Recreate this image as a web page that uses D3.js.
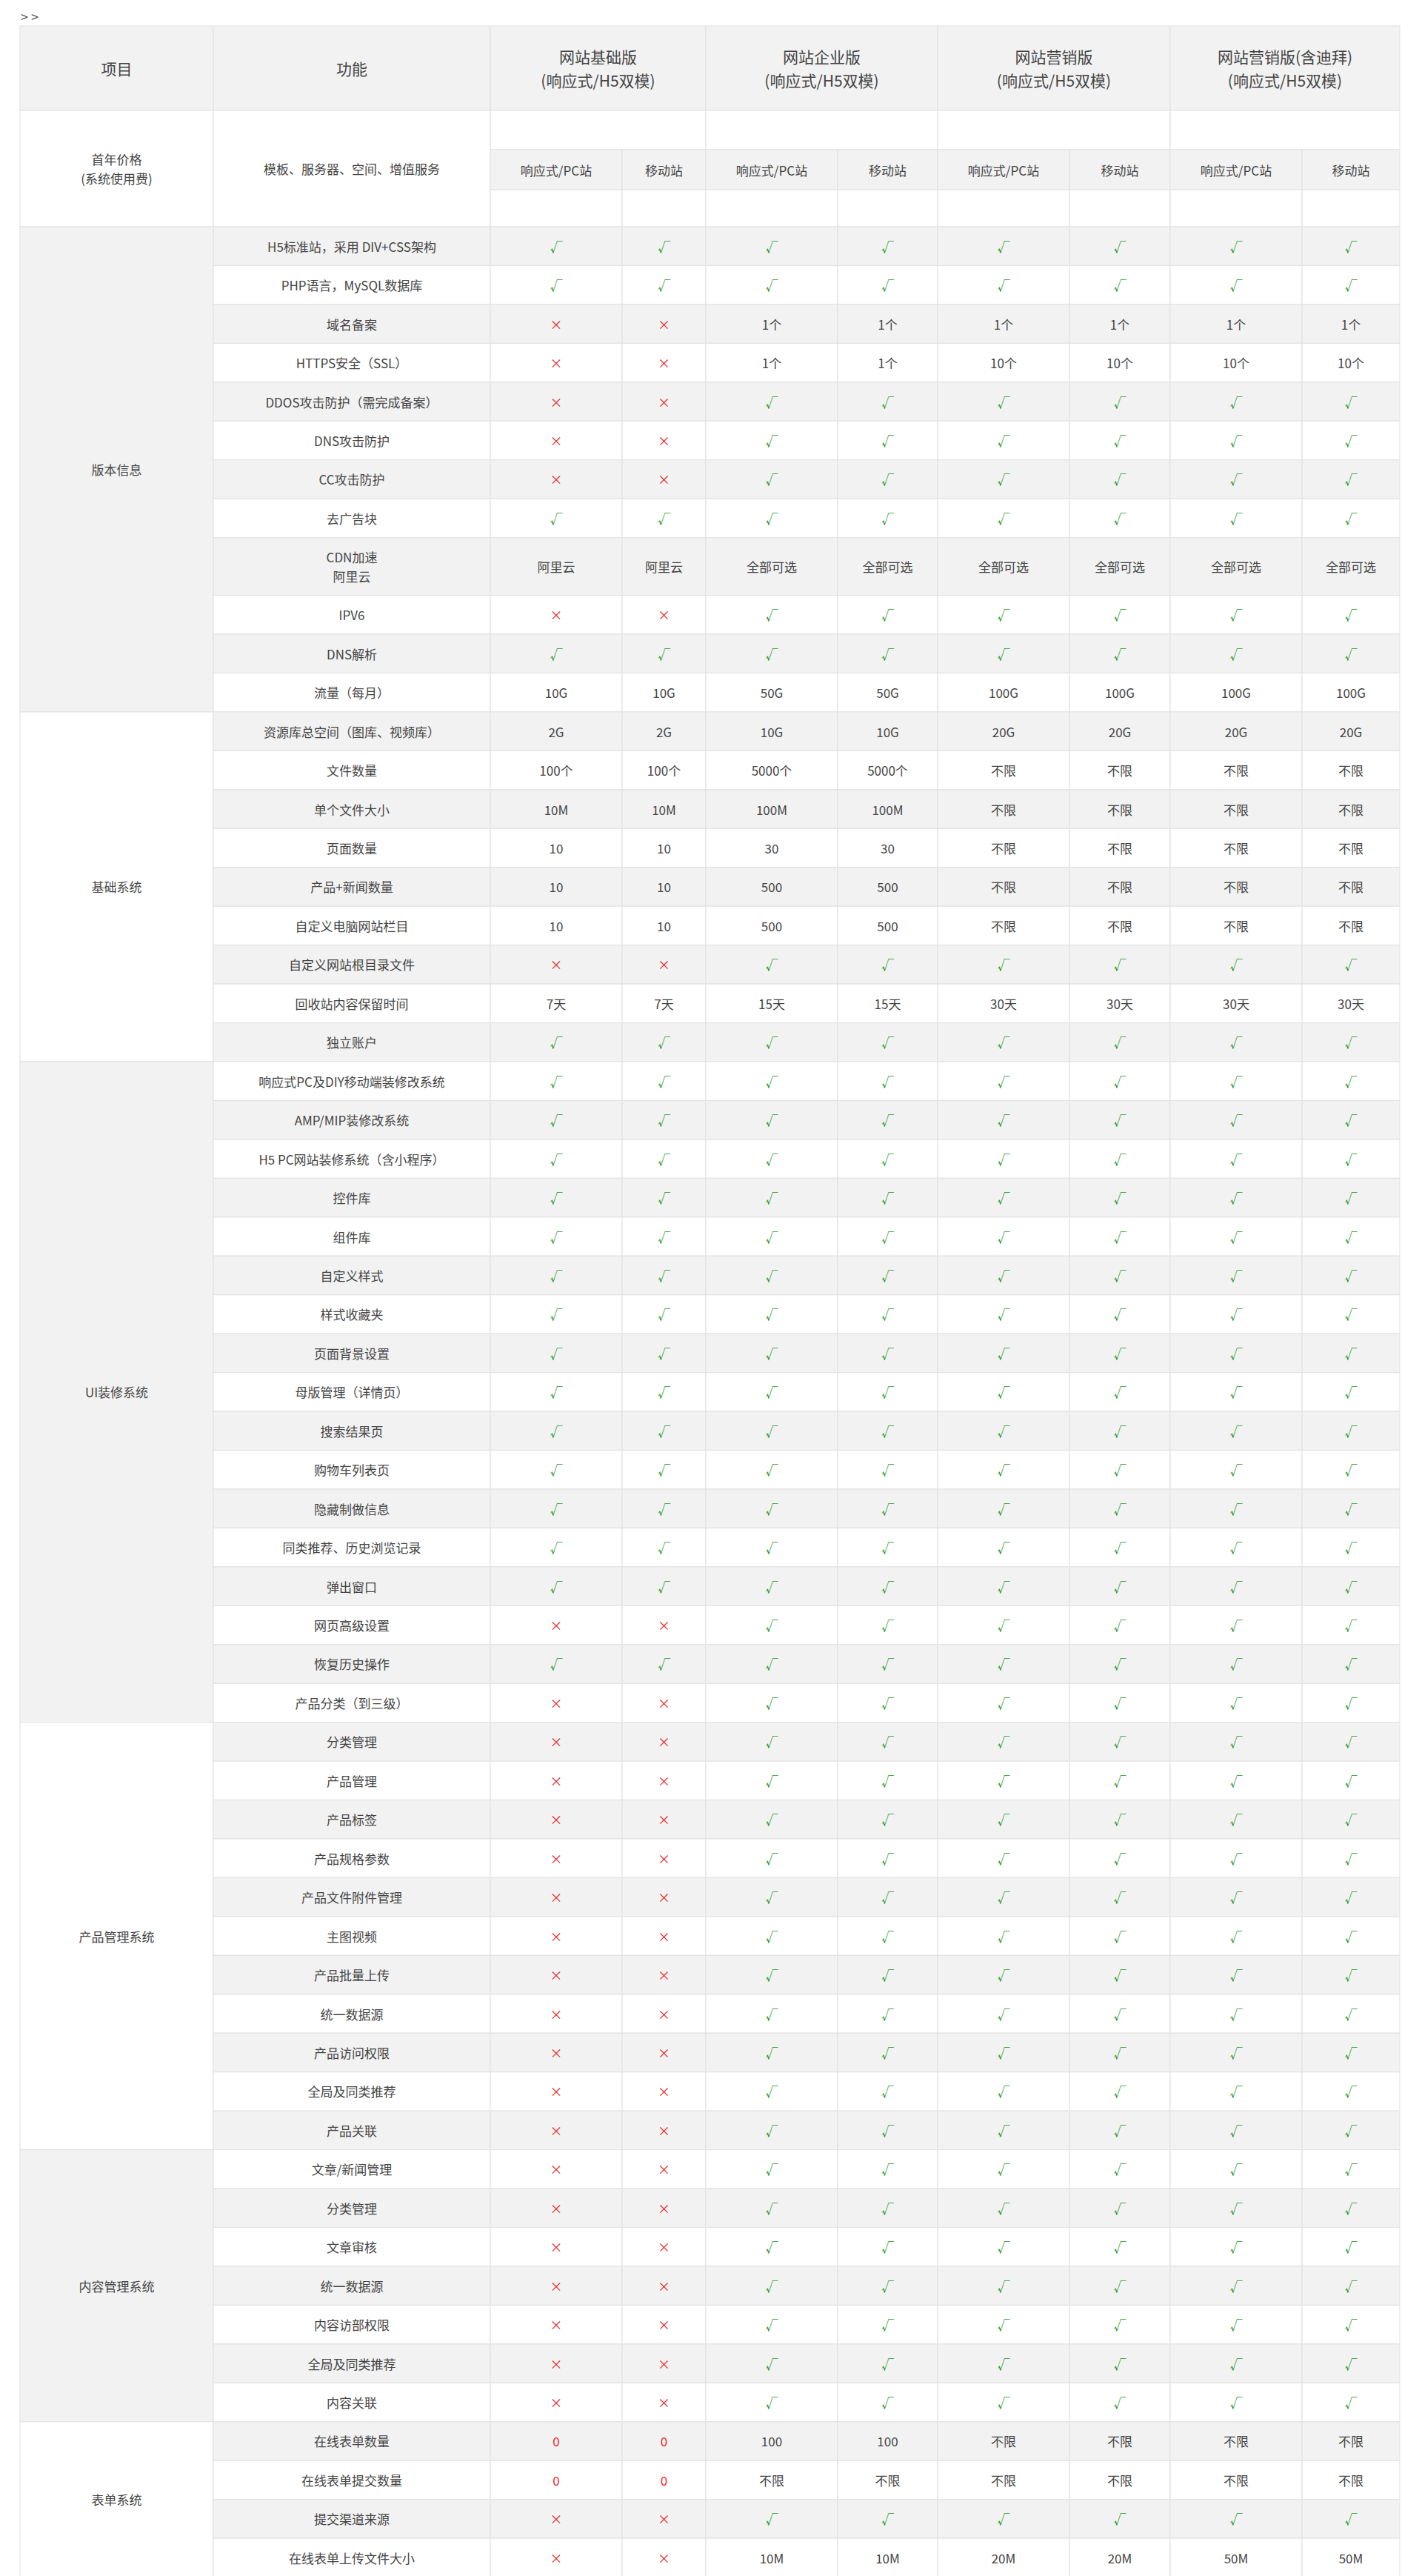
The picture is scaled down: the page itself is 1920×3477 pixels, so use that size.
<!DOCTYPE html>
<html><head><meta charset="utf-8">
<script src="https://cdn.jsdelivr.net/npm/d3@7"></script>
<style>body{margin:0;background:#fff}svg{display:block}</style>
</head><body>
<script>
const plans = ["网站基础版|(响应式/H5双模)","网站企业版|(响应式/H5双模)","网站营销版|(响应式/H5双模)","网站营销版(含迪拜)|(响应式/H5双模)"];
const subHeads = ["响应式/PC站","移动站"];
const allY = ["y","y","y","y","y","y","y","y"];
const noY = ["n","n","y","y","y","y","y","y"];
const sec1 = [
 ["H5标准站，采用 DIV+CSS架构", allY],
 ["PHP语言，MySQL数据库", allY],
 ["域名备案", ["n","n","1个","1个","1个","1个","1个","1个"]],
 ["HTTPS安全（SSL）", ["n","n","1个","1个","10个","10个","10个","10个"]],
 ["DDOS攻击防护（需完成备案）", noY],
 ["DNS攻击防护", noY],
 ["CC攻击防护", noY],
 ["去广告块", allY],
 ["CDN加速|阿里云", ["阿里云","阿里云","全部可选","全部可选","全部可选","全部可选","全部可选","全部可选"]],
 ["IPV6", noY],
 ["DNS解析", allY],
 ["流量（每月）", ["10G","10G","50G","50G","100G","100G","100G","100G"]]
];
const sec2 = [
 ["资源库总空间（图库、视频库）", ["2G","2G","10G","10G","20G","20G","20G","20G"]],
 ["文件数量", ["100个","100个","5000个","5000个","不限","不限","不限","不限"]],
 ["单个文件大小", ["10M","10M","100M","100M","不限","不限","不限","不限"]],
 ["页面数量", ["10","10","30","30","不限","不限","不限","不限"]],
 ["产品+新闻数量", ["10","10","500","500","不限","不限","不限","不限"]],
 ["自定义电脑网站栏目", ["10","10","500","500","不限","不限","不限","不限"]],
 ["自定义网站根目录文件", noY],
 ["回收站内容保留时间", ["7天","7天","15天","15天","30天","30天","30天","30天"]],
 ["独立账户", allY]
];
const sec3 = [
 ["响应式PC及DIY移动端装修改系统", allY],["AMP/MIP装修改系统", allY],["H5 PC网站装修系统（含小程序）", allY],
 ["控件库", allY],["组件库", allY],["自定义样式", allY],["样式收藏夹", allY],["页面背景设置", allY],
 ["母版管理（详情页）", allY],["搜索结果页", allY],["购物车列表页", allY],["隐藏制做信息", allY],
 ["同类推荐、历史浏览记录", allY],["弹出窗口", allY],["网页高级设置", noY],["恢复历史操作", allY],["产品分类（到三级）", noY]
];
const sec4 = ["分类管理","产品管理","产品标签","产品规格参数","产品文件附件管理","主图视频","产品批量上传","统一数据源","产品访问权限","全局及同类推荐","产品关联"].map(f=>[f,noY]);
const sec5 = ["文章/新闻管理","分类管理","文章审核","统一数据源","内容访部权限","全局及同类推荐","内容关联"].map(f=>[f,noY]);
const sec6 = [
 ["在线表单数量", ["0","0","100","100","不限","不限","不限","不限"]],
 ["在线表单提交数量", ["0","0","不限","不限","不限","不限","不限","不限"]],
 ["提交渠道来源", noY],
 ["在线表单上传文件大小", ["n","n","10M","10M","20M","20M","50M","50M"]]
];
const sections = [["版本信息",sec1],["基础系统",sec2],["UI装修系统",sec3],["产品管理系统",sec4],["内容管理系统",sec5],["表单系统",sec6]];

const W=1920,H=3477;
const edges=[27,288,662,840,953,1131,1266,1444,1580,1758,1890];
const x=d3.scaleLinear().domain(d3.range(edges.length)).range(edges);
const svg=d3.select("body").append("svg").attr("width",W).attr("height",H);
const font="'Noto Sans CJK SC','Microsoft YaHei',sans-serif";
const gray="#f2f2f2", line="#e3e3e3", txt="#444";

svg.append("text").attr("x",28).attr("y",30).attr("font-family",font).attr("font-size",18).attr("fill","#555").text("> >");

function cell(x0,y0,x1,y1,fill){svg.append("rect").attr("x",x0).attr("y",y0).attr("width",x1-x0).attr("height",y1-y0).attr("fill",fill).attr("stroke",line).attr("stroke-width",1.2);}
function label(cx,cy,s,size,color){
  const parts=s.split("|"); const lh=size*1.55;
  parts.forEach((p,i)=>svg.append("text").attr("x",cx).attr("y",cy+(i-(parts.length-1)/2)*lh).attr("text-anchor","middle").attr("dominant-baseline","central").attr("font-family",font).attr("font-size",size).attr("fill",color||txt).text(p));
}
const hTop=35,hBot=149;
cell(x(0),hTop,x(1),hBot,gray); label((x(0)+x(1))/2,(hTop+hBot)/2,"项目",21);
cell(x(1),hTop,x(2),hBot,gray); label((x(1)+x(2))/2,(hTop+hBot)/2,"功能",21);
plans.forEach((p,i)=>{const a=x(2+2*i),b=x(4+2*i);cell(a,hTop,b,hBot,gray);label((a+b)/2,(hTop+hBot)/2,p,21);});
const pTop=149,pMid1=202,pMid2=256,pBot=306;
cell(x(0),pTop,x(1),pBot,"#fff"); label((x(0)+x(1))/2,(pTop+pBot)/2,"首年价格|(系统使用费)",17);
cell(x(1),pTop,x(2),pBot,"#fff"); label((x(1)+x(2))/2,(pTop+pBot)/2,"模板、服务器、空间、增值服务",17);
plans.forEach((p,i)=>{const a=x(2+2*i),b=x(4+2*i);cell(a,pTop,b,pMid1,"#fff");
  for(let j=0;j<2;j++){const c=x(2+2*i+j),d=x(3+2*i+j);cell(c,pMid1,d,pMid2,gray);label((c+d)/2,(pMid1+pMid2)/2,subHeads[j],17);cell(c,pMid2,d,pBot,"#fff");}
});
const rh=52.45, tallH=78;
let y=pBot, idx=0;
sections.forEach(([name,rows],si)=>{
  const y0=y;
  const hs=rows.map(r=>r[0].includes("|")?tallH:rh);
  const total=d3.sum(hs);
  cell(x(0),y0,x(1),y0+total,si%2===0?gray:"#fff");
  label((x(0)+x(1))/2,y0+total/2,name,17);
  rows.forEach((r,ri)=>{
    const h=hs[ri], fill=idx%2===0?gray:"#fff";
    cell(x(1),y,x(2),y+h,fill); label((x(1)+x(2))/2,y+h/2,r[0],17);
    r[1].forEach((v,k)=>{
      const a=x(2+k),b=x(3+k); cell(a,y,b,y+h,fill);
      let s=v,c=txt;
      if(v==="y"){s="√";c="#1e9a1e";} else if(v==="n"){s="×";c="#e8272a";} else if(v==="0"){c="#e8272a";}
      label((a+b)/2,y+h/2,s,17,c);
    });
    y+=h; idx++;
  });
});
</script>
</body></html>
